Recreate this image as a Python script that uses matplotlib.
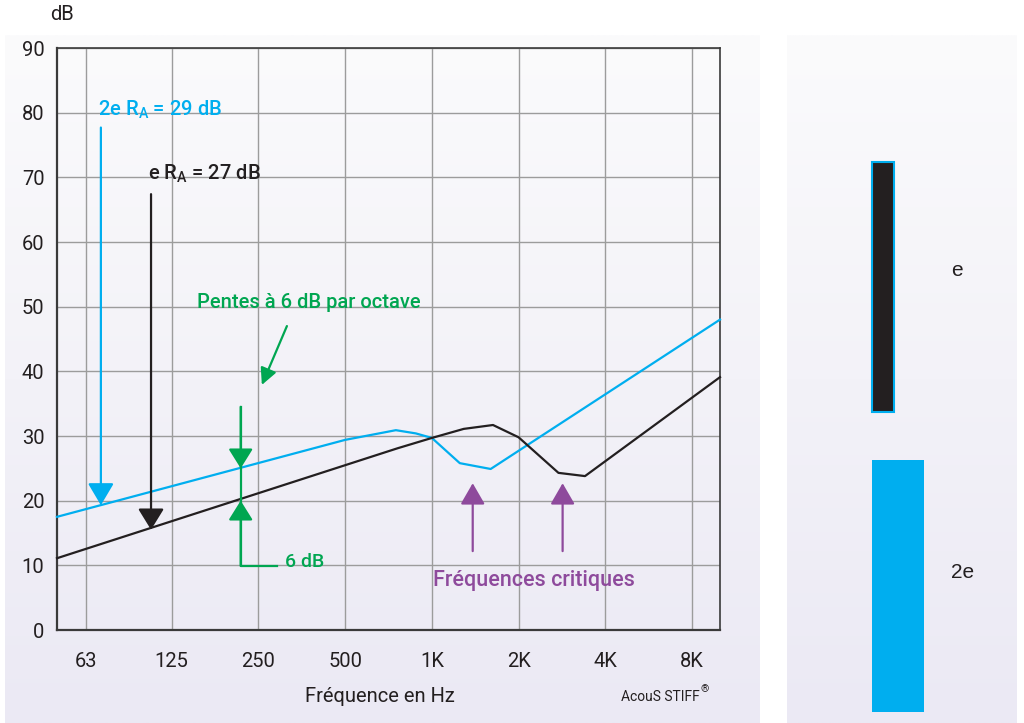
import numpy as np
import matplotlib as mpl
import matplotlib.pyplot as plt

mpl.rcParams['font.family'] = ['Roboto', 'DejaVu Sans']

# --- data ----------------------------------------------------------------
octave_freqs = [63, 125, 250, 500, 1000, 2000, 4000, 8000]
octave_labels = ['63', '125', '250', '500', '1K', '2K', '4K', '8K']
db_ticks = list(range(0, 91, 10))

# double thickness wall (2e), R_A = 29 dB
freq_2e = [50, 500, 750, 880, 1000, 1250, 1600, 10000]
ra_2e = [17.5, 29.4, 30.9, 30.4, 29.7, 25.8, 24.9, 48.0]

# single thickness wall (e), R_A = 27 dB
freq_e = [50, 760, 1000, 1290, 1630, 2000, 2750, 3400, 10000]
ra_e = [11.1, 28.1, 29.7, 31.1, 31.7, 29.8, 24.3, 23.8, 39.1]

# critical frequency markers
crit_freqs = [1386, 2843]

layer_labels = ['e', '2e']

BLUE = '#00aeef'
BLACK = '#231f20'
GREEN = '#00a651'
PURPLE = '#8e4a9c'
GRID = '#9c9c9c'

W, H = 1024, 723
fig = plt.figure(figsize=(W / 100, H / 100), dpi=100, facecolor='white')

# background panels (light lavender gradient), pixel coordinates
bg = fig.add_axes([0, 0, 1, 1], zorder=0)
bg.axis('off')
grad = np.linspace(0, 1, 256)[:, None]
cmap_bg = mpl.colors.LinearSegmentedColormap.from_list('bg', ['#fbfbfc', '#ebe9f4'])
bg.imshow(grad, cmap=cmap_bg, aspect='auto', extent=(5, 760, H, 35), zorder=0)
bg.imshow(grad, cmap=cmap_bg, aspect='auto', extent=(787, 1017, H, 35), zorder=0)
bg.set_xlim(0, W)
bg.set_ylim(H, 0)

# right panel: the two wall sections
bg.bar(872, 250, width=22, bottom=162, align='edge', color=BLACK,
       edgecolor=BLUE, linewidth=1.5, zorder=2)
bg.bar(872, 252, width=52, bottom=460, align='edge', color=BLUE,
       edgecolor=BLUE, linewidth=0, zorder=2)
bg.text(957, 270, layer_labels[0], fontsize=15, family='Liberation Sans',
        color=BLACK, ha='center', va='center')
bg.text(963, 572, layer_labels[1], fontsize=15, family='Liberation Sans',
        color=BLACK, ha='center', va='center')

# main chart
ax = fig.add_axes([57 / W, (H - 630) / H, (720 - 57) / W, (630 - 48) / H], zorder=1)
ax.set_facecolor('none')
ax.set_xscale('log', base=2)
ax.set_xlim(50, 10000)
ax.set_ylim(0, 90)
ax.set_xticks(octave_freqs)
ax.set_xticklabels(octave_labels)
ax.xaxis.set_minor_locator(mpl.ticker.NullLocator())
ax.set_yticks(db_ticks)
ax.grid(True, color=GRID, linewidth=1.0)
ax.set_axisbelow(True)
ax.tick_params(axis='both', length=0, labelsize=14.5, colors=BLACK)
ax.tick_params(axis='x', pad=16)
ax.tick_params(axis='y', pad=9)
for lab in ax.get_yticklabels():
    lab.set_verticalalignment('center_baseline')
for sp in ax.spines.values():
    sp.set_color('#3a3a3a')
    sp.set_linewidth(1.2)
ax.spines['left'].set_linewidth(1.6)
ax.spines['bottom'].set_linewidth(1.6)

ax.plot(freq_2e, ra_2e, color=BLUE, lw=1.6, zorder=3, clip_on=False)
ax.plot(freq_e, ra_e, color=BLACK, lw=1.6, zorder=3, clip_on=False)


def arrow(x0, y0, x1, y1, color, hl=13.5, hw=8, lw=1.6):
    ax.annotate('', xy=(x1, y1), xytext=(x0, y0),
                arrowprops=dict(arrowstyle='-|>,head_length=%g,head_width=%g' % (hl, hw),
                                color=color, lw=lw, shrinkA=0, shrinkB=0,
                                mutation_scale=1), zorder=4)


# R_A labels and arrows
ax.text(69.4, 79.5, r'2e R$_\mathregular{A}$ = 29 dB', color=BLUE, fontsize=14.5,
        va='baseline', ha='left', weight='medium')
arrow(71, 77.7, 71, 19.3, BLUE)
ax.text(103.4, 69.6, r'e R$_\mathregular{A}$ = 27 dB', color=BLACK, fontsize=14.5,
        va='baseline', ha='left', weight='medium')
arrow(106, 67.4, 106, 15.5, BLACK, hl=13, hw=8)

# slope annotation
ax.text(153, 49.8, 'Pentes à 6 dB par octave', color=GREEN, fontsize=14.5,
        va='baseline', ha='left', weight='medium')
arrow(314, 47.0, 257, 37.9, GREEN, hl=10, hw=5)

# 6 dB gap
gap_f = 217
ax.plot([gap_f, gap_f, 290], [34.5, 9.9, 9.9], color=GREEN, lw=1.6, zorder=4)
arrow(gap_f, 34.5, gap_f, 25.0, GREEN, hl=12, hw=7.5)
arrow(gap_f, 9.9, gap_f, 20.0, GREEN, hl=12, hw=7.5)
ax.text(309, 9.7, '6 dB', color=GREEN, fontsize=14, va='baseline', ha='left',
        weight='medium')

# critical frequencies
for f in crit_freqs:
    arrow(f, 12.2, f, 22.7, PURPLE, hl=13, hw=7.5)
ax.text(1007, 6.8, 'Fréquences critiques', color=PURPLE, fontsize=15.5,
        va='baseline', ha='left', weight='medium')

# axis titles and credits
fig.text(62 / W, 1 - 14 / H, 'dB', fontsize=14.5, color=BLACK, ha='center', va='center')
fig.text(380 / W, 1 - 697 / H, 'Fréquence en Hz', fontsize=14.5, color=BLACK,
         ha='center', va='center')
fig.text(700 / W, 1 - 701 / H, 'AcouS STIFF', fontsize=10, color=BLACK,
         ha='right', va='baseline')
fig.text(700.5 / W, 1 - 692 / H, '®', fontsize=7.5, color=BLACK,
         ha='left', va='baseline')

fig.savefig('out.png', dpi=100, facecolor='white')
